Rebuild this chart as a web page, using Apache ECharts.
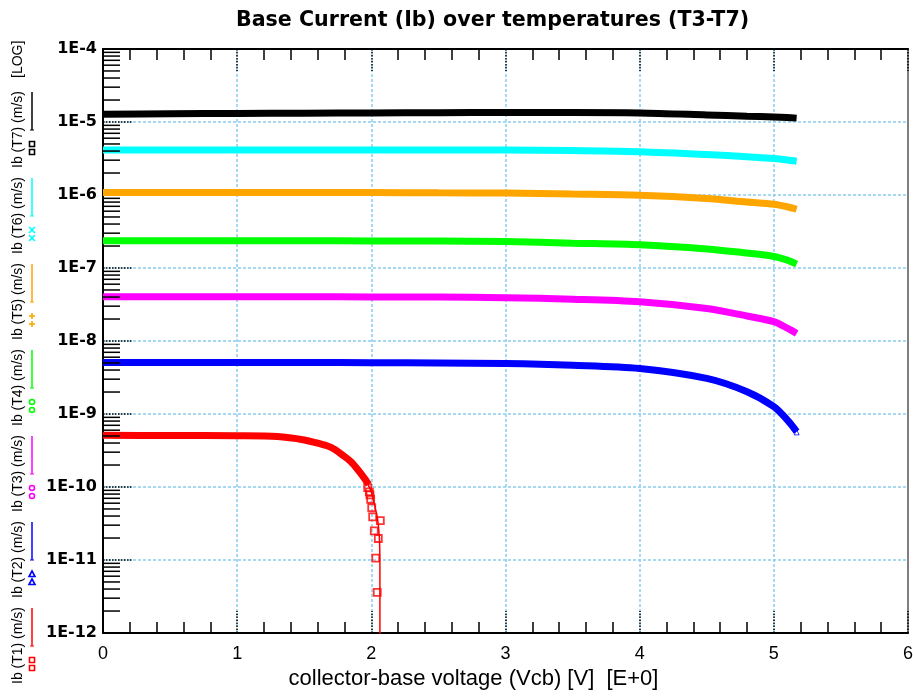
<!DOCTYPE html>
<html>
<head>
<meta charset="utf-8">
<script src="https://cdn.jsdelivr.net/npm/echarts@6/dist/echarts.min.js"></script>
<style>
  html, body { margin: 0; padding: 0; background: #fff; }
  #chart { width: 913px; height: 696px; }
</style>
</head>
<body>
<div id="chart"></div>
<script>
'use strict';

// collector-base voltage (V) where the curves were read
var volts = [0, 0.5, 1, 1.5, 2, 2.5, 3, 3.5, 4, 4.5, 4.8, 5, 5.1, 5.17];

// base current per temperature (A)
var ibT7 = [1.28e-5, 1.30e-5, 1.31e-5, 1.32e-5, 1.33e-5, 1.34e-5, 1.35e-5, 1.35e-5, 1.33e-5, 1.25e-5, 1.20e-5, 1.17e-5, 1.15e-5, 1.13e-5];
var ibT6 = [4.15e-6, 4.15e-6, 4.15e-6, 4.15e-6, 4.14e-6, 4.13e-6, 4.12e-6, 4.06e-6, 3.90e-6, 3.58e-6, 3.35e-6, 3.16e-6, 3.02e-6, 2.90e-6];
var ibT5 = [1.08e-6, 1.08e-6, 1.08e-6, 1.08e-6, 1.08e-6, 1.07e-6, 1.065e-6, 1.03e-6, 9.9e-7, 8.93e-7, 8.0e-7, 7.47e-7, 6.9e-7, 6.38e-7];
var ibT4 = [2.36e-7, 2.36e-7, 2.36e-7, 2.36e-7, 2.35e-7, 2.34e-7, 2.31e-7, 2.19e-7, 2.08e-7, 1.82e-7, 1.60e-7, 1.44e-7, 1.28e-7, 1.13e-7];
var ibT3 = [4.04e-8, 4.04e-8, 4.04e-8, 4.03e-8, 4.02e-8, 4.0e-8, 3.91e-8, 3.74e-8, 3.45e-8, 2.79e-8, 2.20e-8, 1.84e-8, 1.50e-8, 1.27e-8];
var ibT2 = [5.07e-9, 5.07e-9, 5.07e-9, 5.06e-9, 5.05e-9, 5.0e-9, 4.92e-9, 4.65e-9, 4.20e-9, 3.07e-9, 2.02e-9, 1.26e-9, 8.3e-10, 5.75e-10];

// T1 breaks down near 2 V
var voltsT1 = [0, 0.5, 1, 1.3, 1.5, 1.6, 1.7, 1.8, 1.85, 1.9, 1.95, 1.98];
var ibT1 = [5.1e-10, 5.08e-10, 5.03e-10, 4.9e-10, 4.41e-10, 3.98e-10, 3.48e-10, 2.62e-10, 2.2e-10, 1.72e-10, 1.3e-10, 1.08e-10];
var voltsT1Tail = [1.97, 2.0, 2.02, 2.045, 2.06, 2.064, 2.064];
var ibT1Tail = [1.13e-10, 8.5e-11, 6.0e-11, 3.8e-11, 2.0e-11, 8e-12, 1e-13];
// loose T1 samples (squares)
var voltsT1Pts = [1.973, 1.985, 1.990, 1.995, 2.003, 2.010, 2.067, 2.022, 2.052, 2.033, 2.044];
var ibT1Pts = [9.8e-11, 8.6e-11, 7.8e-11, 6.8e-11, 5.2e-11, 3.9e-11, 3.47e-11, 2.5e-11, 1.97e-11, 1.06e-11, 3.6e-12];
// loose T2 samples (triangles)
var voltsT2Pts = [5.15, 5.17];
var ibT2Pts = [6.5e-10, 5.6e-10];

var legendNames = ['Ib (T1) (m/s)', 'Ib (T2) (m/s)', 'Ib (T3) (m/s)', 'Ib (T4) (m/s)', 'Ib (T5) (m/s)', 'Ib (T6) (m/s)', 'Ib (T7) (m/s)'];
var legendColors = ['#ff0000', '#0000ff', '#ff00ff', '#00ff00', '#ffa500', '#00ffff', '#000000'];
var legendMarks = ['rect', 'triangle', 'circle', 'circle', 'plus', 'cross', 'rect'];

var zip = function (xs, ys) {
    return xs.map(function (x, i) { return [x, ys[i]]; });
};

// log minor ticks 2..9 of each decade
var minorTicks = [];
for (var d = -12; d < -4; d++) {
    for (var m = 2; m <= 9; m++) {
        minorTicks.push([0, m * Math.pow(10, d)]);
    }
}

var band = function (name, data, color) {
    return {
        name: name,
        type: 'line',
        data: data,
        showSymbol: false,
        smooth: 0.3,
        lineStyle: {color: color, width: 7},
        z: 3
    };
};

// left legend, rotated, drawn by hand
var graphics = [];
var legendBottom = 684, legendStep = 86;
var legendFont = '14px "Liberation Sans"';
legendNames.forEach(function (name, i) {
    var b = legendBottom - i * legendStep;
    var c = legendColors[i];
    graphics.push({
        type: 'text', x: 18, y: b, rotation: Math.PI / 2,
        style: {text: name, font: legendFont, fill: '#000',
            textAlign: 'left', textVerticalAlign: 'middle', verticalAlign: 'middle'}
    });
    graphics.push({
        type: 'line', shape: {x1: 32, y1: b - 76, x2: 32, y2: b - 38},
        style: {stroke: c, lineWidth: 1.5}
    });
    graphics.push({
        type: 'line', shape: {x1: 30, y1: b - 38, x2: 34, y2: b - 38},
        style: {stroke: c, lineWidth: 1}
    });
    [b - 24, b - 16].forEach(function (cy) {
        var cx = 32, s = 2.5;
        var st = {stroke: c, fill: 'none', lineWidth: 1.6};
        var mk = legendMarks[i];
        if (mk === 'rect') {
            graphics.push({type: 'rect', shape: {x: cx - s, y: cy - s, width: 2 * s, height: 2 * s}, style: st});
        } else if (mk === 'circle') {
            graphics.push({type: 'circle', shape: {cx: cx, cy: cy, r: s}, style: st});
        } else if (mk === 'triangle') {
            graphics.push({type: 'polygon', shape: {points: [[cx, cy - 3], [cx + 3, cy + 2.5], [cx - 3, cy + 2.5]]}, style: st});
        } else if (mk === 'plus') {
            graphics.push({type: 'line', shape: {x1: cx - 3, y1: cy, x2: cx + 3, y2: cy}, style: st});
            graphics.push({type: 'line', shape: {x1: cx, y1: cy - 3, x2: cx, y2: cy + 3}, style: st});
        } else {
            graphics.push({type: 'line', shape: {x1: cx - 3, y1: cy - 3, x2: cx + 3, y2: cy + 3}, style: st});
            graphics.push({type: 'line', shape: {x1: cx - 3, y1: cy + 3, x2: cx + 3, y2: cy - 3}, style: st});
        }
    });
});
graphics.push({
    type: 'text', x: 18, y: 78, rotation: Math.PI / 2,
    style: {text: '[LOG]', font: legendFont, fill: '#000',
        textAlign: 'left', textVerticalAlign: 'middle', verticalAlign: 'middle'}
});

var xAxisBase = function (pos) {
    return {
        type: 'value',
        position: pos,
        min: 0,
        max: 6,
        interval: 1,
        axisLine: {show: true, onZero: false, lineStyle: {color: '#000', width: 2}},
        axisTick: {show: true, inside: true, length: 22, lineStyle: {color: '#000', width: 1.5, type: 'dotted'}},
        minorTick: {show: true, splitNumber: 5, length: 11, lineStyle: {color: '#000', width: 1.5}},
        splitLine: {show: false},
        axisLabel: {show: false}
    };
};

var xBottom = xAxisBase('bottom');
xBottom.axisLabel = {show: true, color: '#000', fontFamily: 'Liberation Sans', fontSize: 18, margin: 12};
xBottom.splitLine = {show: true, showMaxLine: false, lineStyle: {color: '#8ccdf0', width: 1.5, type: [3, 2]}};
xBottom.name = 'collector-base voltage (Vcb) [V]  [E+0]';
xBottom.nameLocation = 'middle';
xBottom.nameGap = 35;
xBottom.nameTextStyle = {color: '#000', fontFamily: 'Liberation Sans', fontSize: 22, padding: [0, 64, 0, 0]};

var chart = echarts.init(document.getElementById('chart'), null, {renderer: 'canvas'});

var option = {
    animation: false,
    backgroundColor: '#fff',
    title: {
        text: 'Base Current (Ib) over temperatures (T3-T7)',
        left: 231,
        top: 5,
        textStyle: {fontFamily: 'DejaVu Sans', fontWeight: 'bold', fontSize: 20.6, color: '#000'}
    },
    grid: {
        left: 103, right: 5, top: 49, bottom: 63,
        outerBoundsMode: 'none',
        containLabel: false,
        show: true, borderColor: '#555', borderWidth: 1.5
    },
    xAxis: [xBottom, xAxisBase('top')],
    yAxis: {
        type: 'log',
        logBase: 10,
        min: 1e-12,
        max: 1e-4,
        interval: 1,
        axisLine: {show: true, lineStyle: {color: '#000', width: 2}},
        axisTick: {show: true, inside: true, length: 30, lineStyle: {color: '#000', width: 1.5, type: 'dotted'}},
        splitLine: {show: true, showMinLine: false, showMaxLine: false,
            lineStyle: {color: '#8ccdf0', width: 1.5, type: [3, 2]}},
        axisLabel: {
            color: '#000', fontFamily: 'DejaVu Sans', fontWeight: 'bold', fontSize: 16, margin: 6,
            formatter: function (v) {
                return '1E' + Math.round(Math.log(v) / Math.LN10);
            }
        }
    },
    graphic: graphics,
    series: [
        {
            name: 'minor ticks',
            type: 'custom',
            silent: true,
            clip: false,
            data: minorTicks,
            renderItem: function (params, api) {
                var p = api.coord([0, api.value(1)]);
                return {
                    type: 'line',
                    shape: {x1: p[0], y1: p[1], x2: p[0] + 17, y2: p[1]},
                    style: {stroke: '#000', lineWidth: 1.5}
                };
            },
            z: 5
        },
        band('T7', zip(volts, ibT7), '#000000'),
        band('T6', zip(volts, ibT6), '#00ffff'),
        band('T5', zip(volts, ibT5), '#ffa500'),
        band('T4', zip(volts, ibT4), '#00ff00'),
        band('T3', zip(volts, ibT3), '#ff00ff'),
        band('T2', zip(volts, ibT2), '#0000ff'),
        band('T1', zip(voltsT1, ibT1), '#ff0000'),
        {
            name: 'T1 tail',
            type: 'line',
            data: zip(voltsT1Tail, ibT1Tail),
            showSymbol: false,
            smooth: 0.3,
            clip: true,
            lineStyle: {color: '#ff0000', width: 1.5},
            z: 3
        },
        {
            name: 'T1 pts',
            type: 'scatter',
            data: zip(voltsT1Pts, ibT1Pts),
            symbol: 'rect',
            symbolSize: 7,
            itemStyle: {color: 'rgba(0,0,0,0)', borderColor: '#ff0000', borderWidth: 1.8},
            z: 4
        },
        {
            name: 'T2 pts',
            type: 'scatter',
            data: zip(voltsT2Pts, ibT2Pts),
            symbol: 'triangle',
            symbolSize: 5,
            itemStyle: {color: 'rgba(0,0,0,0)', borderColor: '#0000ff', borderWidth: 1},
            z: 4
        }
    ]
};

chart.setOption(option);
</script>
</body>
</html>
